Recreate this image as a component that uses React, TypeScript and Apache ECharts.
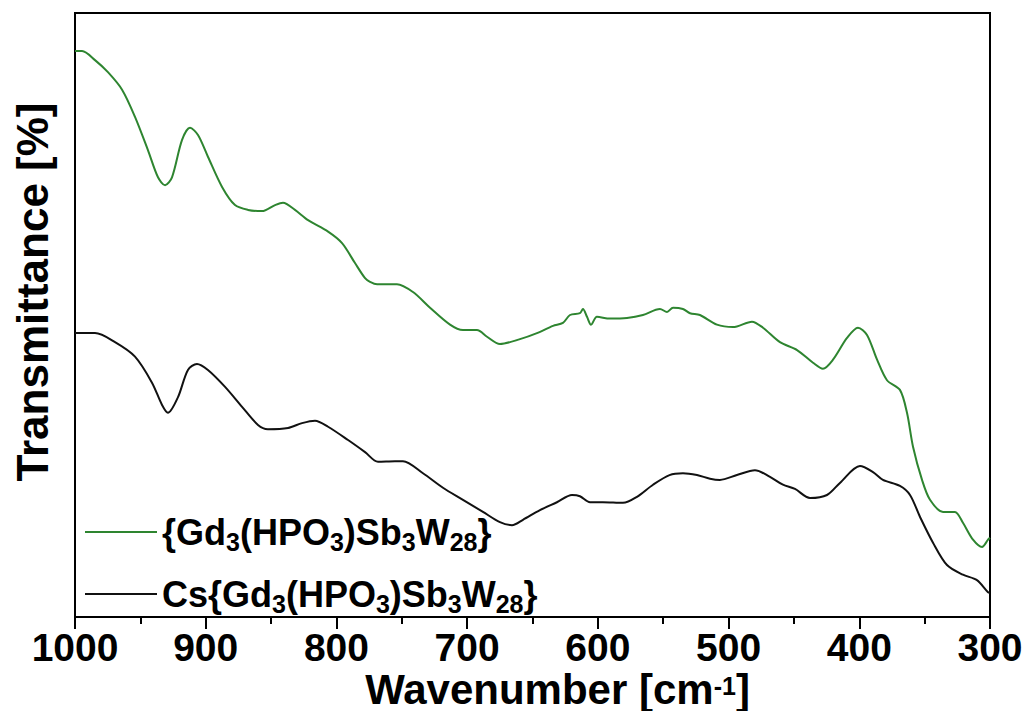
import React, { useEffect, useRef } from "react";
import * as echarts from "echarts";

const greenName = "{Gd{s|3}(HPO{s|3})Sb{s|3}W{s|28}}";
const blackName = "Cs{Gd{s|3}(HPO{s|3})Sb{s|3}W{s|28}}";

const xTicks = [1000, 900, 800, 700, 600, 500, 400, 300];

const greenWn = [1000, 994.6, 984.7, 974.8, 964.0, 954.1, 944.2, 936.5, 931.1, 925.8, 918.1, 912.0, 905.9, 898.3, 887.5, 877.6, 867.6, 856.9, 847.0, 840.9, 831.7, 821.7, 806.4, 795.7, 785.8, 778.1, 774.3, 768.9, 753.7, 741.4, 728.4, 713.1, 703.2, 692.5, 684.8, 674.9, 659.6, 646.6, 634.3, 626.7, 621.3, 613.7, 611.4, 608.3, 605.2, 600.7, 590.7, 577.7, 565.5, 552.5, 547.1, 542.5, 534.9, 529.5, 521.9, 508.9, 496.6, 482.1, 473.7, 460.7, 447.6, 435.4, 427.8, 420.1, 409.4, 401.0, 394.1, 386.4, 378.8, 368.9, 363.5, 358.9, 352.0, 345.9, 335.9, 326.8, 320.7, 313.0, 306.1, 301.5, 300];
const greenT = [93.7, 93.7, 92.2, 90.2, 87.3, 82.8, 77.3, 72.8, 71.5, 72.8, 79.0, 81.0, 79.8, 76.2, 71.2, 68.2, 67.4, 67.2, 68.2, 68.6, 67.4, 65.7, 63.8, 61.9, 58.6, 56.1, 55.5, 55.1, 55.1, 53.8, 51.2, 48.4, 47.5, 47.5, 46.4, 45.2, 46.0, 47.0, 48.2, 48.7, 50.0, 50.3, 51.0, 49.7, 48.4, 49.7, 49.4, 49.5, 50.0, 51.0, 50.5, 51.2, 51.0, 50.3, 50.0, 48.4, 48.0, 48.9, 47.9, 45.5, 44.2, 42.1, 41.1, 42.6, 46.2, 47.9, 46.7, 42.6, 39.2, 37.6, 33.8, 28.2, 22.7, 19.4, 17.4, 17.4, 15.6, 12.8, 11.6, 12.8, 13.1];

const blackWn = [1000, 984.7, 969.4, 954.1, 941.1, 933.4, 928.9, 921.2, 913.6, 906.7, 898.3, 885.2, 872.2, 860.0, 852.4, 837.0, 826.3, 816.4, 806.4, 791.1, 778.1, 768.2, 755.2, 749.1, 733.8, 718.5, 703.2, 687.9, 674.9, 665.7, 657.3, 644.3, 631.3, 619.8, 613.7, 606.0, 596.1, 580.8, 570.1, 557.8, 545.2, 534.9, 524.2, 514.2, 506.6, 493.6, 479.8, 468.3, 458.4, 449.2, 437.7, 424.7, 414.8, 399.5, 389.5, 381.9, 368.9, 361.2, 353.6, 343.6, 332.9, 320.7, 310.0, 301.5, 300];
const blackT = [47.0, 47.0, 45.5, 43.1, 38.8, 35.1, 33.8, 36.4, 40.9, 41.9, 40.9, 38.1, 34.8, 31.8, 31.1, 31.3, 32.1, 32.5, 31.5, 29.3, 27.3, 25.7, 25.8, 25.8, 23.8, 21.4, 19.4, 17.4, 15.7, 15.2, 16.1, 17.7, 19.0, 20.2, 20.0, 19.0, 19.0, 18.9, 19.9, 21.9, 23.5, 23.8, 23.5, 22.9, 22.7, 23.5, 24.3, 23.2, 21.9, 21.2, 19.7, 20.2, 22.2, 25.0, 24.0, 22.7, 21.7, 20.2, 16.6, 12.3, 8.6, 7.0, 6.1, 4.1, 4.0];

const FONT = "'Liberation Sans', Arial, sans-serif";

export default function App() {
  const ref = useRef<HTMLDivElement>(null);
  useEffect(() => {
    if (!ref.current) return;
    const chart = echarts.init(ref.current, undefined, { renderer: "svg" });
    const subRich = {
      s: { fontSize: 25, fontWeight: "bold", fontFamily: FONT, color: "#000", padding: [20, 0, 0, 0] },
    };
    const legendBase = {
      orient: "vertical",
      left: 80,
      itemWidth: 72,
      itemHeight: 14,
      itemGap: 0,
      icon: "path://M0,6 L72,6 L72,8 L0,8 Z",
      textStyle: { fontSize: 36, fontWeight: "bold", fontFamily: FONT, color: "#000", rich: subRich },
    };
    chart.setOption({
      animation: false,
      backgroundColor: "#fff",
      grid: {
        left: 75, right: 35, top: 13, bottom: 94,
        show: true, borderColor: "#000", borderWidth: 2,
        outerBoundsMode: "none", containLabel: false,
      },
      legend: [
        { ...legendBase, top: 509, data: [greenName] },
        { ...legendBase, top: 571, data: [blackName] },
      ],
      xAxis: {
        type: "value",
        inverse: true,
        min: 300,
        max: 1000,
        interval: 100,
        name: "Wavenumber [cm{sup|-1}]",
        nameLocation: "middle",
        nameGap: 56,
        nameMoveOverlap: false,
        nameTextStyle: {
          fontSize: 42, lineHeight: 32, fontWeight: "bold", fontFamily: FONT, color: "#000",
          padding: [0, 0, 0, 50],
          rich: { sup: { fontSize: 25, lineHeight: 12, fontWeight: "bold", fontFamily: FONT, color: "#000", verticalAlign: "top" } },
        },
        axisLine: { show: true, lineStyle: { color: "#000", width: 2 } },
        axisTick: { show: true, length: 12, lineStyle: { color: "#000", width: 2 } },
        minorTick: { show: true, splitNumber: 2, length: 7, lineStyle: { color: "#000", width: 2 } },
        splitLine: { show: false },
        minorSplitLine: { show: false },
        axisLabel: {
          fontSize: 39, lineHeight: 32, fontWeight: "bold", fontFamily: FONT, color: "#000", margin: 14,
          showMinLabel: true, showMaxLabel: true,
          formatter: (v: number) => (xTicks.includes(v) ? String(v) : ""),
        },
      },
      yAxis: {
        type: "value",
        min: 0,
        max: 100,
        axisLine: { show: true, lineStyle: { color: "#000", width: 2 } },
        axisTick: { show: false },
        axisLabel: { show: false },
        splitLine: { show: false },
      },
      graphic: [
        {
          type: "text",
          x: 32,
          y: 292,
          rotation: Math.PI / 2,
          style: {
            text: "Transmittance [%]",
            fontSize: 44,
            fontWeight: "bold",
            fontFamily: FONT,
            fill: "#000",
            align: "center",
            verticalAlign: "middle",
          },
        },
      ],
      series: [
        {
          name: greenName,
          type: "line",
          smooth: 0.3,
          symbol: "none",
          lineStyle: { color: "#2e8530", width: 2 },
          itemStyle: { color: "#2e8530" },
          data: greenWn.map((w, i) => [w, greenT[i]]),
        },
        {
          name: blackName,
          type: "line",
          smooth: 0.3,
          symbol: "none",
          lineStyle: { color: "#111", width: 2 },
          itemStyle: { color: "#111" },
          data: blackWn.map((w, i) => [w, blackT[i]]),
        },
      ],
    });
    return () => chart.dispose();
  }, []);
  return <div ref={ref} style={{ position: "absolute", left: 0, top: 0, width: 1025, height: 711 }} />;
}
